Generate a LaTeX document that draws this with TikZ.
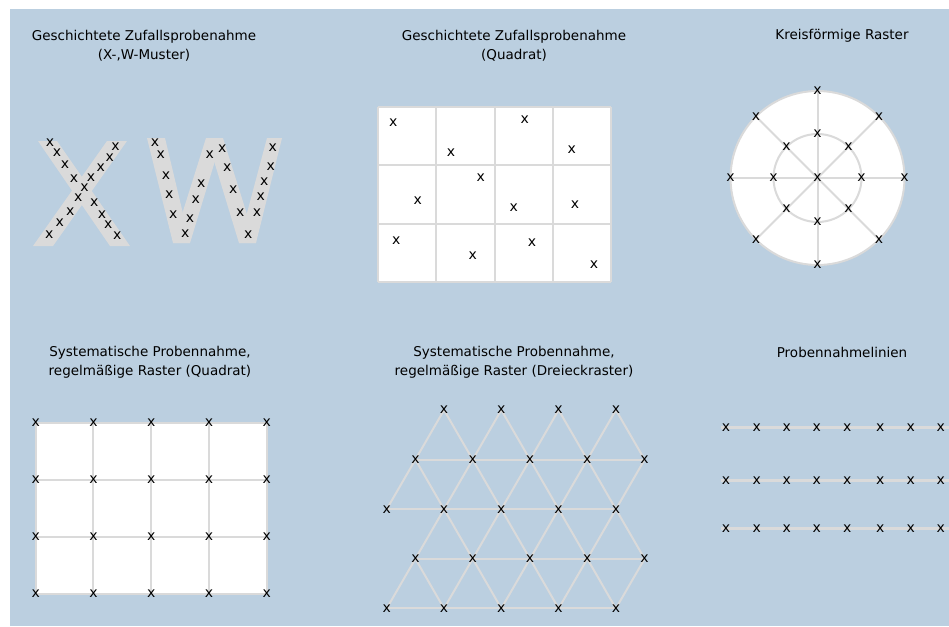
\documentclass[tikz,border=0pt]{standalone}
\usepackage{fontspec}
\setmainfont{DejaVu Sans}
\usetikzlibrary{calc}
\definecolor{bg}{RGB}{187,207,224}
\definecolor{ln}{RGB}{218,218,218}
\begin{document}
\begin{tikzpicture}[x=1pt,y=-1pt,
  mk/.style={inner sep=0pt, font=\fontsize{14}{14}\selectfont},
  ttl/.style={align=center, font=\fontsize{13.5}{19}\selectfont, inner sep=0pt},
  gl/.style={draw=ln, line width=2pt},
  band/.style={fill=ln},
  bline/.style={draw=ln, line width=3.5pt}
]
\useasboundingbox (0,0) rectangle (949,626);
\fill[bg] (10,9) rectangle (949,626);

% ---------- titles ----------
\node[ttl] (t1) at (144,46) {Geschichtete Zufallsprobenahme\\(X-,W-Muster)};
\node[ttl] (t2) at (514,46) {Geschichtete Zufallsprobenahme\\(Quadrat)};
\node[ttl] (t3) at (842,36) {Kreisförmige Raster};
\node[ttl] (t4) at (150,362) {Systematische Probennahme,\\regelmäßige Raster (Quadrat)};
\node[ttl] (t5) at (514,362) {Systematische Probennahme,\\regelmäßige Raster (Dreieckraster)};
\node[ttl] (t6) at (842,352) {Probennahmelinien};

% ---------- X and W ----------
\fill[band] (38,141) -- (57,141) -- (130,246) -- (110,246) -- cycle;
\fill[band] (107,141) -- (127,141) -- (53,246) -- (33,246) -- cycle;
\fill[band] (147,138) -- (165,138) -- (190,243) -- (173,243) -- cycle;
\fill[band] (173,243) -- (190,243) -- (222,138) -- (206,138) -- cycle;
\fill[band] (207,138) -- (223,138) -- (256,243) -- (239,243) -- cycle;
\fill[band] (239,243) -- (256,243) -- (282,138) -- (267,138) -- cycle;
\foreach \px/\py [count=\k] in {50/142.3,57/153,65/164.5,74/179,84.5/188,78.3/198,70.3/211.2,59.7/222.7,49.2/234.7,
  115.5/147,109.7/157.3,100.7/167.7,91/178,94.2/202.7,102/214.5,108.3/224.7,117.3/236}
  \node[mk] (xx\k) at (\px,\py) {x};
\foreach \px/\py [count=\k] in {155/142.7,160.8/155,166/175.5,169.2/194.7,173.3/215,185.3/233.5,190/218.3,195.7/199.2,201.3/183.7,
  209.7/155,222.2/149,227.3/167.7,233.3/190,240.3/212.7,248.3/235,257/212.7,260.7/196.3,264.3/181.7,270.7/166.3,272.7/147.5}
  \node[mk] (xw\k) at (\px,\py) {x};

% ---------- random quadrat ----------
\fill[white] (378.3,107.3) rectangle (610.7,281.7);
\foreach \gx [count=\k] in {378.3,436.4,494.5,552.6,610.7}
  \draw[gl] (\gx,107.3) -- (\gx,281.7);
\foreach \gy [count=\k] in {107.3,165.4,223.5,281.7}
  \draw[gl] (378.3,\gy) -- (610.7,\gy);
\foreach \px/\py [count=\k] in {393.3/122.7,451/152.7,524.7/120,571.7/150,
  417.7/201,480.7/177.3,513.7/207.7,575/205,
  396.3/240.3,472.7/255.7,532/243,594/265}
  \node[mk] (xq\k) at (\px,\py) {x};

% ---------- circular raster ----------
\coordinate (cc) at (817.5,178);
\fill[white] (cc) circle (87);
\draw[gl] (cc) circle (87);
\draw[gl] (cc) circle (44);
\foreach \a [count=\k] in {0,45,...,315} {
  \coordinate (co\k) at ($(cc)+(\a:87)$);
  \coordinate (ci\k) at ($(cc)+(\a:44)$);
  \draw[gl] (cc) -- (co\k);
}
\node[mk] (xc0) at (cc) {x};
\foreach \k in {1,...,8} {
  \node[mk] (xo\k) at (co\k) {x};
  \node[mk] (xi\k) at (ci\k) {x};
}

% ---------- square grid ----------
\fill[white] (35.7,422.7) rectangle (266.7,594);
\foreach \i in {0,...,4} {
  \pgfmathsetmacro{\gx}{35.7+57.75*\i}
  \draw[gl] (\gx,422.7) -- (\gx,594);
}
\foreach \j in {0,...,3} {
  \pgfmathsetmacro{\gy}{422.7+57.1*\j}
  \draw[gl] (35.7,\gy) -- (266.7,\gy);
}
\foreach \i in {0,...,4}
  \foreach \j in {0,...,3} {
    \pgfmathsetmacro{\gx}{35.7+57.75*\i}
    \pgfmathsetmacro{\gy}{422.7+57.1*\j}
    \node[mk] (xs\i\j) at (\gx,\gy) {x};
  }

% ---------- triangular grid ----------
\foreach \i in {0,...,3}
  \coordinate (r0c\i) at ({444+57.3*\i},410);
\foreach \i in {0,...,4} {
  \coordinate (r1c\i) at ({415.4+57.3*\i},459.6);
  \coordinate (r2c\i) at ({386.7+57.3*\i},509.2);
  \coordinate (r3c\i) at ({415.4+57.3*\i},558.8);
  \coordinate (r4c\i) at ({386.7+57.3*\i},608.4);
}
\foreach \i [evaluate=\i as \n using int(\i+1)] in {0,...,3} {
  \draw[gl] (r0c\i) -- (r1c\i);
  \draw[gl] (r0c\i) -- (r1c\n);
  \draw[gl] (r1c\i) -- (r2c\n);
  \draw[gl] (r3c\i) -- (r2c\n);
  \draw[gl] (r3c\i) -- (r4c\n);
}
\foreach \i in {0,...,4} {
  \draw[gl] (r1c\i) -- (r2c\i);
  \draw[gl] (r3c\i) -- (r4c\i);
}
\foreach \i in {1,...,4}
  \draw[gl] (r3c\i) -- (r2c\i);
\foreach \r in {1,...,4}
  \draw[gl] (r\r c0) -- (r\r c4);
\foreach \i in {0,...,3}
  \node[mk] (xt0\i) at (r0c\i) {x};
\foreach \r in {1,...,4}
  \foreach \i in {0,...,4}
    \node[mk] (xt\r\i) at (r\r c\i) {x};

% ---------- sampling lines ----------
\foreach \ly [count=\k] in {427.3,480.7,528.3} {
  \coordinate (la\k) at (720.7,\ly);
  \coordinate (lb\k) at (949,\ly);
  \draw[bline] (la\k) -- (lb\k);
  \foreach \lx [count=\m] in {726,756.7,786.7,816.7,847.3,880.3,910.7,940.7}
    \node[mk] (xl\k\m) at (\lx,\ly) {x};
}
\end{tikzpicture}
\end{document}
